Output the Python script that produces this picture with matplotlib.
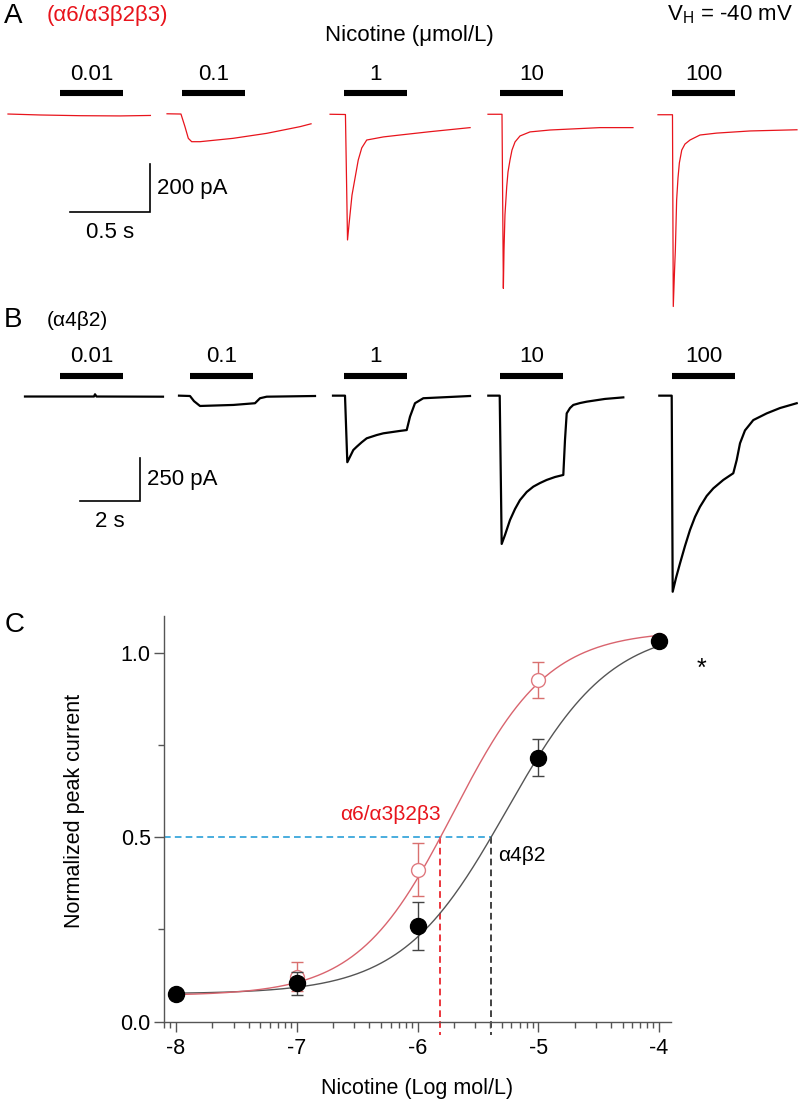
import numpy as np
import matplotlib
matplotlib.use('Agg')
import matplotlib.pyplot as plt

plt.rcParams['font.family'] = ['Liberation Sans', 'DejaVu Sans']
plt.rcParams['mathtext.fontset'] = 'custom'
plt.rcParams['mathtext.rm'] = 'Liberation Sans'

# ---- data ----
conc_labels = ['0.01', '0.1', '1', '10', '100']

# panel A: alpha6/alpha3b2b3 traces, time (s) along the panel, current (pA)
a6_t = [
    [0.05, 0.25, 0.50, 0.75, 0.94],
    [1.044, 1.131, 1.156, 1.177, 1.198, 1.25, 1.456, 1.667, 1.875, 1.944],
    [2.063, 2.159, 2.172, 2.181, 2.200, 2.239, 2.261, 2.292, 2.396, 2.50, 2.688, 2.938],
    [3.05, 3.1375, 3.146, 3.150, 3.156, 3.167, 3.175, 3.1875, 3.20, 3.219, 3.25, 3.3125,
     3.4375, 3.75, 3.956],
    [4.1125, 4.203, 4.208, 4.216, 4.221, 4.229, 4.2375, 4.246, 4.261, 4.281, 4.3125,
     4.375, 4.479, 4.6875, 4.981],
]
a6_i = [
    [2, -2, -5, -6, -4],
    [3, 2, -51, -100, -114, -114, -100, -79, -51, -39],
    [1, 0, -526, -463, -338, -191, -140, -107, -94, -86, -72, -55],
    [1, 1, -729, -568, -421, -303, -241, -191, -149, -115, -90, -73, -65, -55, -55],
    [-1, -1, -805, -652, -568, -358, -266, -203, -149, -124, -107, -86, -78, -69, -64],
]
a6_bar_start = [0.375, 1.1375, 2.15, 3.125, 4.2]
a6_bar_len = 0.394

# panel B: alpha4b2 traces
a4_t = [
    [0.833, 3.133, 3.167, 3.217, 5.433],
    [5.967, 6.333, 6.467, 6.667, 7.777, 8.5, 8.667, 8.89, 10.5],
    [11.1, 11.5, 11.577, 11.667, 11.777, 11.89, 12.057, 12.223, 12.557, 12.777, 13.333,
     13.557, 13.667, 13.833, 14.11, 15.667],
    [16.277, 16.657, 16.723, 16.833, 17.0, 17.167, 17.333, 17.557, 17.777, 18.0, 18.223,
     18.5, 18.777, 18.833, 18.89, 19.0, 19.11, 19.333, 19.557, 20.167, 20.777],
    [21.977, 22.39, 22.423, 22.533, 22.667, 22.833, 23.0, 23.167, 23.333, 23.557, 23.777,
     24.11, 24.443, 24.557, 24.667, 24.833, 25.11, 25.557, 26.0, 26.557],
]
a4_i = [
    [-3, -3, 10, -3, -4],
    [2, 0, -30, -58, -52, -42, -13, -4, 0],
    [2, 2, -385, -353, -314, -295, -269, -246, -227, -217, -203, -198, -120, -42, -13, 0],
    [2, 2, -860, -808, -721, -657, -605, -558, -527, -506, -488, -471, -459, -256, -101,
     -70, -52, -41, -33, -17, -8],
    [2, 2, -1138, -1058, -973, -872, -779, -703, -644, -581, -537, -488, -449, -372, -275,
     -200, -140, -101, -70, -42],
]
a4_bar_start = [2.0, 6.333, 11.467, 16.667, 22.4]
a4_bar_len = 2.1

# panel C: concentration-response
log_conc = [-8, -7, -6, -5, -4]
a6_mean = [0.075, 0.122, 0.411, 0.926, 1.035]
a6_sem = [0.01, 0.04, 0.072, 0.049, 0.01]
a4_mean = [0.075, 0.104, 0.258, 0.715, 1.033]
a4_sem = [0.01, 0.031, 0.065, 0.05, 0.01]
# Hill fit parameters: bottom, top, logEC50, slope
a6_fit = [0.07, 1.06, -5.705, 1.1]
a4_fit = [0.075, 1.07, -5.2625, 1.0]
half_x = [-5.81, -5.39]   # where fits cross 0.5

RED = '#e8141c'
W, H = 800, 1102
fig = plt.figure(figsize=(8, 11.02), dpi=100)


def px_axes(x0, y0, x1, y1):
    ax = fig.add_axes([x0 / W, 1 - y1 / H, (x1 - x0) / W, (y1 - y0) / H])
    return ax


def trace_panel(ax, px_s, px_pa, base_px, top_px, bot_px, ts, cs, color, lw,
                bar_start, bar_len, bar_px, lab_px, scale):
    ax.set_xlim(0, W / px_s)
    ax.set_ylim((base_px - bot_px) / px_pa, (base_px - top_px) / px_pa)
    ax.axis('off')
    for t, c in zip(ts, cs):
        ax.plot(t, c, color=color, lw=lw, solid_joinstyle='round')
    bar_y = (base_px - bar_px) / px_pa
    lab_y = (base_px - lab_px) / px_pa
    for s, lab in zip(bar_start, conc_labels):
        ax.plot([s, s + bar_len], [bar_y, bar_y], color='k', lw=4.4,
                solid_capstyle='butt')
        ax.text(s + bar_len / 2, lab_y, lab, ha='center', va='center', fontsize=16)
    # scale bar
    (x0, ybar, dt, di, tlab, ilab) = scale
    t0 = x0 / px_s
    i0 = (base_px - ybar) / px_pa
    ax.plot([t0, t0 + dt, t0 + dt], [i0, i0, i0 + di], color='k', lw=1.2,
            solid_joinstyle='miter')
    ax.text(t0 + dt + 7 / px_s, i0 + di / 2, ilab, ha='left', va='center', fontsize=16)
    ax.text(t0 + dt / 2, i0 - 21 / px_pa, tlab, ha='center', va='center', fontsize=16)


axA = px_axes(0, 40, 800, 330)
trace_panel(axA, 160, 0.2385, 114.5, 40, 330, a6_t, a6_i, RED, 0.9,
            a6_bar_start, a6_bar_len, 93, 75, (70, 212, 0.5, 200, '0.5 s', '200 pA'))

axB = px_axes(0, 330, 800, 605)
trace_panel(axB, 30, 0.172, 396, 330, 605, a4_t, a4_i, 'k', 1.6,
            a4_bar_start, a4_bar_len, 376, 357, (80, 500.7, 2, 250, '2 s', '250 pA'))

fig.text(13 / W, 1 - 16 / H, 'A', fontsize=20, ha='center', va='center')
fig.text(47 / W, 1 - 15 / H, '(α6/α3β2β3)', fontsize=16, color=RED, ha='left', va='center')
fig.text(409 / W, 1 - 36 / H, 'Nicotine (μmol/L)', fontsize=16, ha='center', va='center')
fig.text(793 / W, 1 - 15 / H, r'V$_{\mathrm{H}}$ = -40 mV', fontsize=16, ha='right', va='center')
fig.text(13 / W, 1 - 320 / H, 'B', fontsize=20, ha='center', va='center')
fig.text(47 / W, 1 - 320 / H, '(α4β2)', fontsize=15, ha='left', va='center')
fig.text(15 / W, 1 - 625 / H, 'C', fontsize=20, ha='center', va='center')

# ---- panel C ----
axC = px_axes(163.9, 615.8, 671.1, 1021.5)


def hill(x, p):
    b, t, c, n = p
    return b + (t - b) / (1 + 10 ** ((c - x) * n))


xs = np.linspace(log_conc[0], log_conc[-1], 300)
axC.plot(xs, hill(xs, a4_fit), color='#555555', lw=1.0, zorder=2)
axC.plot(xs, hill(xs, a6_fit), color='#d9646e', lw=1.0, zorder=2)

dash = (0, (4, 2.5))
axC.plot([-8.1, half_x[1]], [0.5, 0.5], color='#2a9fd8', lw=1.2, ls=dash, zorder=1)
axC.plot([half_x[0], half_x[0]], [0.5, -0.037], color=RED, lw=1.2, ls=dash,
         clip_on=False, zorder=1)
axC.plot([half_x[1], half_x[1]], [0.5, -0.037], color='#222222', lw=1.2, ls=dash,
         clip_on=False, zorder=1)

axC.errorbar(log_conc, a6_mean, yerr=a6_sem, fmt='o', ms=10, mfc='white',
             mec='#e07a80', mew=1.0, ecolor='#d9706f', elinewidth=1.0,
             capsize=4.5, capthick=1.0, zorder=3)
axC.errorbar(log_conc, a4_mean, yerr=a4_sem, fmt='o', ms=11.5, mfc='k',
             mec='k', ecolor='#444444', elinewidth=1.0, capsize=4.5,
             capthick=1.0, zorder=4)

axC.text(half_x[0], 0.535, 'α6/α3β2β3', color=RED, fontsize=15, ha='right', va='bottom')
axC.text(half_x[1] + 0.06, 0.45, 'α4β2', color='k', fontsize=15, ha='left', va='center')
axC.text(-3.646, 0.955, '*', fontsize=18, ha='center', va='center', clip_on=False)

axC.set_xlim(-8.1, -3.9)
axC.set_ylim(0, 1.1)
for s in ['top', 'right']:
    axC.spines[s].set_visible(False)
for s in ['left', 'bottom']:
    axC.spines[s].set_color('#555555')
    axC.spines[s].set_linewidth(1.0)
axC.set_xticks(log_conc)
axC.set_xticklabels([str(v) for v in log_conc])
minor_x = [d + np.log10(k) for d in range(-9, -3) for k in range(2, 10)]
minor_x = [m for m in minor_x if -8.1 <= m <= -3.9]
axC.set_xticks(minor_x, minor=True)
axC.set_yticks([0, 0.5, 1.0])
axC.set_yticklabels(['0.0', '0.5', '1.0'])
axC.set_yticks([0.25, 0.75], minor=True)
axC.tick_params(which='major', length=7, width=1, color='#555555', labelsize=15.5)
axC.tick_params(axis='x', which='major', pad=5)
axC.tick_params(axis='y', which='major', pad=2.5)
axC.tick_params(which='minor', length=4, width=1, color='#555555')

axC.set_xlabel('Nicotine (Log mol/L)', fontsize=15.5)
axC.xaxis.set_label_coords(0.5, -0.14)
axC.set_ylabel('Normalized peak current', fontsize=15.5)
axC.yaxis.set_label_coords(-0.155, 0.52)

fig.savefig('out.png', dpi=100)
